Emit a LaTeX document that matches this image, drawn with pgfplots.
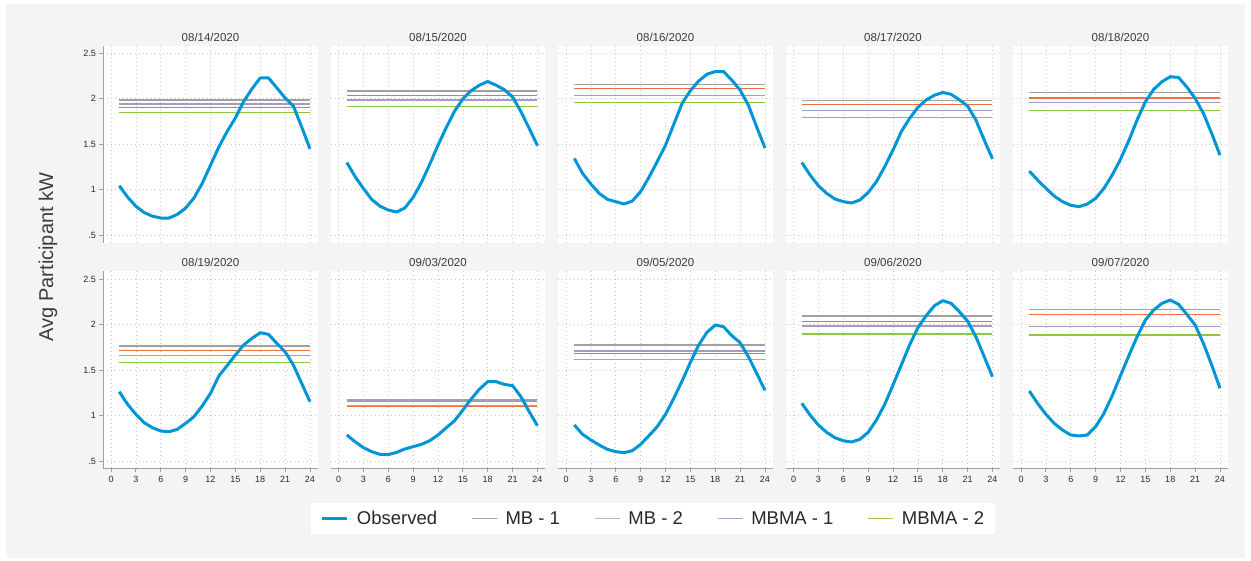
\documentclass[border=0pt]{standalone}
\usepackage{pgfplots}
\pgfplotsset{compat=1.18}
\usepackage{pgfplotstable}
\usepackage{fontspec}
\setmainfont{Liberation Sans}

\definecolor{bgfig}{RGB}{244,244,244}
\definecolor{obsblue}{RGB}{0,150,214}
\definecolor{mbgray}{RGB}{160,160,160}
\definecolor{mborange}{RGB}{238,112,60}
\definecolor{lav}{RGB}{165,155,190}
\definecolor{lgreen}{RGB}{140,200,60}
\definecolor{gridgray}{RGB}{200,200,200}
\definecolor{axgray}{RGB}{160,160,160}
\definecolor{labgray}{RGB}{40,40,40}
\definecolor{titlegray}{RGB}{60,60,60}

\pgfplotstableread{
h p1 p2 p3 p4 p5 p6 p7 p8 p9 p10
1 1.045 1.300 1.345 1.300 1.205 1.262 0.786 0.896 1.134 1.269
2 0.920 1.145 1.180 1.162 1.108 1.123 0.712 0.793 1.005 1.134
3 0.820 1.015 1.064 1.045 1.017 1.013 0.647 0.731 0.896 1.013
4 0.750 0.895 0.961 0.961 0.932 0.921 0.603 0.676 0.815 0.914
5 0.710 0.820 0.895 0.899 0.870 0.866 0.573 0.628 0.756 0.841
6 0.690 0.778 0.870 0.870 0.830 0.830 0.570 0.603 0.723 0.786
7 0.690 0.756 0.844 0.855 0.815 0.822 0.595 0.592 0.709 0.775
8 0.730 0.800 0.877 0.888 0.844 0.848 0.632 0.614 0.738 0.786
9 0.800 0.917 0.980 0.970 0.906 0.914 0.658 0.683 0.815 0.877
10 0.910 1.080 1.137 1.090 1.016 0.987 0.683 0.778 0.950 1.024
11 1.070 1.280 1.310 1.254 1.162 1.104 0.723 0.877 1.123 1.218
12 1.270 1.490 1.490 1.437 1.335 1.244 0.786 1.013 1.335 1.438
13 1.470 1.685 1.720 1.640 1.540 1.434 0.866 1.189 1.555 1.657
14 1.640 1.865 1.950 1.785 1.767 1.548 0.943 1.379 1.775 1.866
15 1.790 2.000 2.090 1.906 1.968 1.665 1.060 1.584 1.965 2.049
16 1.970 2.090 2.195 1.987 2.104 1.775 1.181 1.775 2.097 2.159
17 2.110 2.150 2.270 2.040 2.188 1.848 1.290 1.914 2.207 2.233
18 2.230 2.190 2.300 2.070 2.243 1.910 1.372 1.995 2.262 2.269
19 2.230 2.150 2.300 2.050 2.235 1.892 1.372 1.976 2.233 2.222
20 2.120 2.100 2.205 1.990 2.130 1.793 1.342 1.877 2.141 2.112
21 2.010 2.020 2.096 1.920 2.005 1.700 1.328 1.800 2.038 1.995
22 1.920 1.860 1.930 1.767 1.840 1.555 1.207 1.647 1.866 1.793
23 1.690 1.675 1.690 1.547 1.620 1.353 1.042 1.463 1.647 1.555
24 1.450 1.485 1.460 1.340 1.380 1.152 0.888 1.277 1.427 1.299
}\obstable

\pgfplotsset{
  panel/.style={
    scale only axis, width=214.4pt, height=197pt, anchor=south west,
    xmin=-0.93, xmax=24.93, ymin=0.42, ymax=2.585,
    xtick={0,3,...,24}, ytick={0.5,1,1.5,2,2.5}, yticklabels={.5,1,1.5,2,2.5},
    grid=major,
    major grid style={draw=gridgray, line width=0.7pt, dash pattern=on 0.8pt off 3.2pt},
    axis background/.style={fill=white},
    axis x line*=bottom, axis y line*=left,
    every non boxed x axis/.append style={x axis line style={-}, xtick align=outside},
    every non boxed y axis/.append style={y axis line style={-}, ytick align=outside},
    axis line style={draw=axgray, line width=0.9pt},
    tick align=outside,
    tick style={draw=axgray, line width=0.9pt}, major tick length=4pt,
    ticklabel style={font=\fontsize{9}{10}\selectfont, text=labgray},
    /pgf/number format/assume math mode=true,
    every axis title shift=0pt,
    title style={font=\fontsize{11.5}{13}\selectfont, text=titlegray, at={(0.5,1)}, anchor=base, yshift=4.5pt},
  },
  toprow/.style={xticklabels={}, x axis line style={draw=none}, xtick style={draw=none}},
  innercol/.style={yticklabels={}, y axis line style={draw=none}, ytick style={draw=none}},
  obs/.style={obsblue, line width=3pt, line join=round, forget plot},
  mbone/.style={mbgray, line width=1.2pt, forget plot},
  mbtwo/.style={mborange, line width=1.2pt, forget plot},
  mbmaone/.style={lav, line width=1.2pt, forget plot},
  mbmatwo/.style={lgreen, line width=1.2pt, forget plot},
}

\newcommand{\panel}[9]{%
\begin{axis}[panel,#1,at={(#2pt,#3pt)},title={#4}]
\addplot[mbone] coordinates {(1,#6) (24,#6)};
\addplot[mbtwo] coordinates {(1,#7) (24,#7)};
\addplot[mbmaone] coordinates {(1,#8) (24,#8)};
\addplot[mbmatwo] coordinates {(1,#9) (24,#9)};
\addplot[obs] table[x=h,y=#5]{\obstable};
\end{axis}}

\begin{document}
\begin{tikzpicture}
\useasboundingbox (0pt,0pt) rectangle (1251pt,561pt);
\fill[white] (0pt,0pt) rectangle (1251pt,561pt);
\fill[bgfig] (6pt,3pt) rectangle (1245pt,557pt);

% top row
\panel{toprow}{103.3}{318.4}{08/14/2020}{p1}{1.987}{1.903}{1.943}{1.848}
\panel{toprow,innercol}{330.8}{318.4}{08/15/2020}{p2}{2.085}{2.040}{1.987}{1.917}
\panel{toprow,innercol}{558.3}{318.4}{08/16/2020}{p3}{2.159}{2.110}{2.040}{1.960}
\panel{toprow,innercol}{785.8}{318.4}{08/17/2020}{p4}{1.980}{1.940}{1.873}{1.796}
\panel{toprow,innercol}{1013.3}{318.4}{08/18/2020}{p5}{2.067}{2.008}{1.957}{1.873}
% bottom row
\panel{}{103.3}{92.7}{08/19/2020}{p6}{1.764}{1.716}{1.661}{1.584}

\begin{axis}[panel,innercol,at={(330.8pt,92.7pt)},title={09/03/2020},
  legend columns=5,
  legend style={draw=none, fill=white, font=\fontsize{18.5}{20}\selectfont,
    text=labgray, at={(1.504,-0.2548)}, anchor=center,
    inner xsep=9pt, inner ysep=6.5pt,
    /tikz/every even column/.append style={column sep=32pt},
    /tikz/every odd column/.append style={column sep=6pt}},
  legend cell align=left,
  legend image code/.code={\draw[#1] (0pt,0pt) -- (25pt,0pt);}]
\addplot[mbone] coordinates {(1,1.160) (24,1.160)};
\addplot[mbtwo] coordinates {(1,1.104) (24,1.104)};
\addplot[mbmaone] coordinates {(1,1.178) (24,1.178)};
\addplot[mbmatwo] coordinates {(1,1.112) (24,1.112)};
\addplot[obs] table[x=h,y=p7]{\obstable};
\addlegendimage{obsblue, line width=3.6pt}
\addlegendentry{Observed}
\addlegendimage{draw={rgb,255:red,165;green,165;blue,165}, line width=1.4pt}
\addlegendentry{MB - 1}
\addlegendimage{draw={rgb,255:red,185;green,185;blue,185}, line width=1.4pt}
\addlegendentry{MB - 2}
\addlegendimage{draw={rgb,255:red,170;green,160;blue,195}, line width=1.4pt}
\addlegendentry{MBMA - 1}
\addlegendimage{draw={rgb,255:red,150;green,200;blue,80}, line width=1.4pt}
\addlegendentry{MBMA - 2}
\end{axis}

\panel{innercol}{558.3}{92.7}{09/05/2020}{p8}{1.775}{1.683}{1.709}{1.617}
\panel{innercol}{785.8}{92.7}{09/06/2020}{p9}{2.093}{2.035}{1.984}{1.896}
\panel{innercol}{1013.3}{92.7}{09/07/2020}{p10}{2.166}{2.112}{1.976}{1.885}

\node[rotate=90, font=\fontsize{20}{22}\selectfont, text=titlegray] at (48pt,304pt) {Avg Participant kW};
\end{tikzpicture}
\end{document}
